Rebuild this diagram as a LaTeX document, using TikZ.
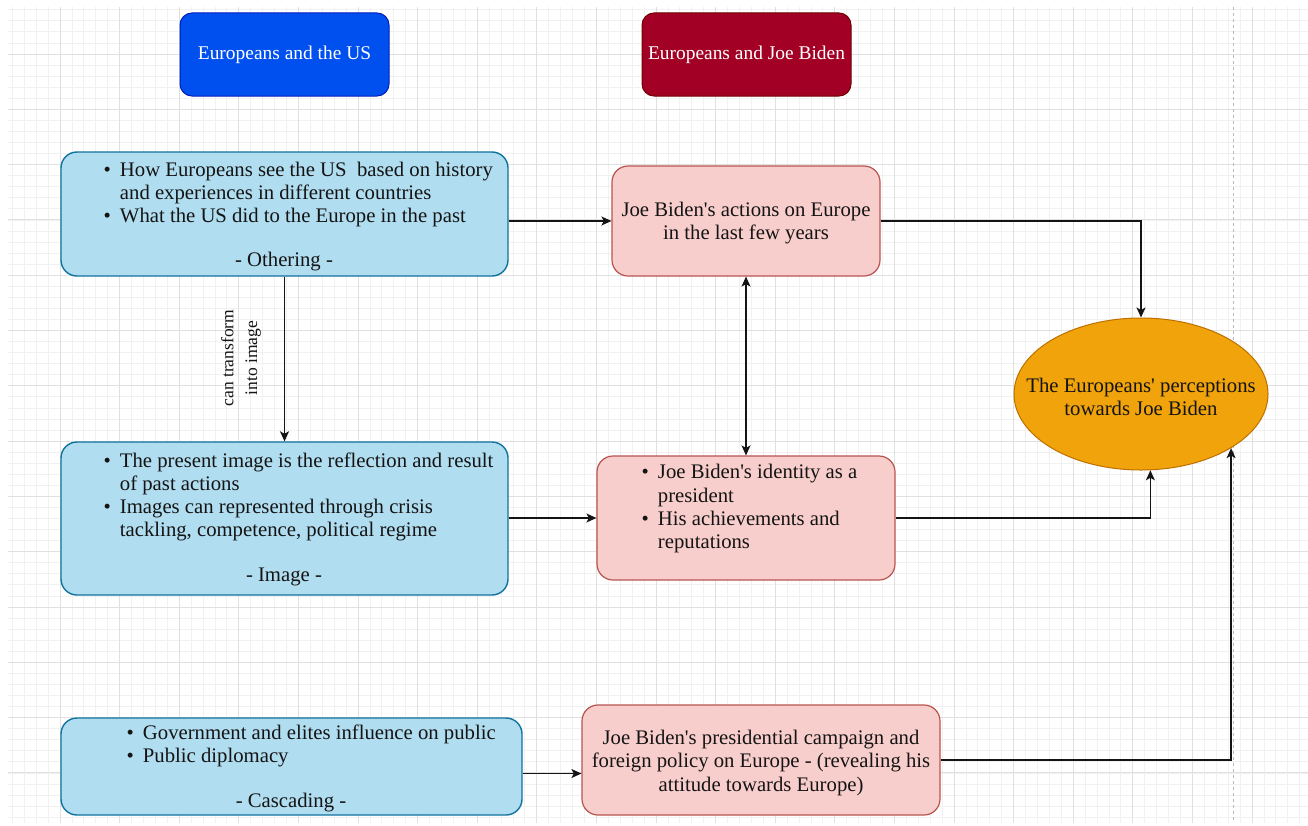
\documentclass[tikz,border=0pt]{standalone}
\usepackage{fontspec}
\newfontfamily\bodyf{Liberation Serif}
\usetikzlibrary{arrows.meta,shapes.geometric,calc}
\definecolor{hblue}{HTML}{0050EF}
\definecolor{hbluel}{HTML}{001DBC}
\definecolor{hred}{HTML}{A20025}
\definecolor{hredl}{HTML}{6F0000}
\definecolor{lblue}{HTML}{B1DDF0}
\definecolor{lbluel}{HTML}{10739E}
\definecolor{pink}{HTML}{F8CECC}
\definecolor{pinkl}{HTML}{B85450}
\definecolor{orng}{HTML}{F0A30A}
\definecolor{orngl}{HTML}{BD7000}
\definecolor{gmin}{HTML}{F1F1F1}
\definecolor{gmaj}{HTML}{E0E0E0}
\definecolor{ink}{HTML}{141414}
\newcommand\bul{\textbullet}
\begin{document}
\begin{tikzpicture}[x=1bp,y=-1bp,
  gminor/.style={draw=gmin,line width=0.8bp},
  gmajor/.style={draw=gmaj,line width=0.9bp},
  hdr/.style={draw,rounded corners=12bp,line width=1bp,minimum width=209bp,minimum height=83bp,inner sep=0pt},
  bbox/.style={draw=lbluel,fill=lblue,rounded corners=16bp,line width=1.4bp,inner sep=0pt},
  pbox/.style={draw=pinkl,fill=pink,rounded corners=16bp,line width=1.2bp,inner sep=0pt},
  txt/.style={inner sep=0pt,text=ink,font=\bodyf\fontsize{20.8}{23.2}\selectfont},
  arr/.style={draw=ink,line width=1.4bp,-{Stealth[length=10bp,width=9bp,inset=2.5bp]}},
  arrs/.style={draw=ink,line width=1.4bp,{Stealth[length=10bp,width=9bp,inset=2.5bp]}-{Stealth[length=10bp,width=9bp,inset=2.5bp]}}
]
\useasboundingbox (0,0) rectangle (1308,825);
\fill[white] (0,0) rectangle (1308,825);
% grid
\begin{scope}
\clip (8,7) rectangle (1308,822);
\foreach \i in {0,...,110} {\draw[gminor] ({0.4+11.92*\i},0) -- ({0.4+11.92*\i},830);}
\foreach \i in {0,...,75} {\draw[gminor] (0,{-1.3+11.06*\i}) -- (1308,{-1.3+11.06*\i});}
\foreach \i in {0,...,22} {\draw[gmajor] ({0.4+59.6*\i},0) -- ({0.4+59.6*\i},830);}
\foreach \i in {0,...,15} {\draw[gmajor] (0,{-1.3+55.3*\i}) -- (1308,{-1.3+55.3*\i});}
\end{scope}
\draw[draw=gray!55,line width=1bp,dash pattern=on 3bp off 3bp] (1233,7) -- (1233,822);

% headers
\node[hdr,draw=hbluel,fill=hblue,text=white,font=\bodyf\fontsize{19.5}{22}\selectfont] (H1) at (284.5,54.5) {Europeans and the US};
\node[hdr,draw=hredl,fill=hred,text=white,font=\bodyf\fontsize{19.5}{22}\selectfont] (H2) at (746.5,54.5) {Europeans and Joe Biden};

% left boxes
\node[bbox,minimum width=447bp,minimum height=124bp] (A) at (284.5,214) {};
\node[bbox,minimum width=447bp,minimum height=153bp] (B) at (284.5,518.5) {};
\node[bbox,minimum width=461bp,minimum height=97bp] (C) at (291.5,766.5) {};

% pink boxes
\node[pbox,minimum width=268bp,minimum height=110bp] (P1) at (746,221) {};
\node[pbox,minimum width=298bp,minimum height=124bp] (P2) at (746,518) {};
\node[pbox,minimum width=358bp,minimum height=110bp] (P3) at (761,760) {};

% ellipse
\node[ellipse,draw=orngl,fill=orng,line width=1bp,minimum width=254bp,minimum height=152bp,inner sep=0pt] (E) at (1141,394) {};

% texts
\node[txt,anchor=west] (At) at (103.5,194.5) {\begin{tabular}{@{}l@{\hspace{9bp}}l@{}}
\bul & How Europeans see the US\ \ based on history\\
 & and experiences in different countries\\
\bul & What the US did to the Europe in the past
\end{tabular}};
\node[txt] (Al) at (284,261.5) {- Othering -};

\node[txt,anchor=west] (Bt) at (103.5,497.5) {\begin{tabular}{@{}l@{\hspace{9bp}}l@{}}
\bul & The present image is the reflection and result\\
 & of past actions\\
\bul & Images can represented through crisis\\
 & tackling, competence, political regime
\end{tabular}};
\node[txt] (Bl) at (284,576.5) {- Image -};

\node[txt,anchor=west] (Ct) at (126.5,746) {\begin{tabular}{@{}l@{\hspace{9bp}}l@{}}
\bul & Government and elites influence on public\\
\bul & Public diplomacy
\end{tabular}};
\node[txt] (Cl) at (291,802.5) {- Cascading -};

\node[txt,align=center] (P1t) at (746,223) {Joe Biden's actions on Europe\\in the last few years};

\node[txt,anchor=west] (P2t) at (641.5,509) {\begin{tabular}{@{}l@{\hspace{9bp}}l@{}}
\bul & Joe Biden's identity as a\\
 & president\\
\bul & His achievements and\\
 & reputations
\end{tabular}};

\node[txt,align=center] (P3t) at (761,763) {Joe Biden's presidential campaign and\\foreign policy on Europe - (revealing his\\attitude towards Europe)};

\node[txt,align=center] (Et) at (1141,396.5) {The Europeans' perceptions\\towards Joe Biden};

\node[txt,align=center,rotate=90,font=\bodyf\fontsize{17.6}{24}\selectfont] (lab) at (241,358) {can transform\\into image};

% connectors
\draw[arr] (A.east |- P1.west) -- (P1.west);
\draw[arr] (P1.east) -| (E.north);
\draw[arr] (A.south) -- (B.north);
\draw[arrs] (P1.south) -- (P2.north);
\draw[arr] (B.east |- P2.west) -- (P2.west);
\draw[arr] (P2.east) -| (E.-83.2);
\draw[arr] ([yshift=-7bp]C.east) -- ([yshift=-7bp]C.east -| P3.west);
\draw[arr] (P3.east) -| (E.-31.3);
\end{tikzpicture}
\end{document}
